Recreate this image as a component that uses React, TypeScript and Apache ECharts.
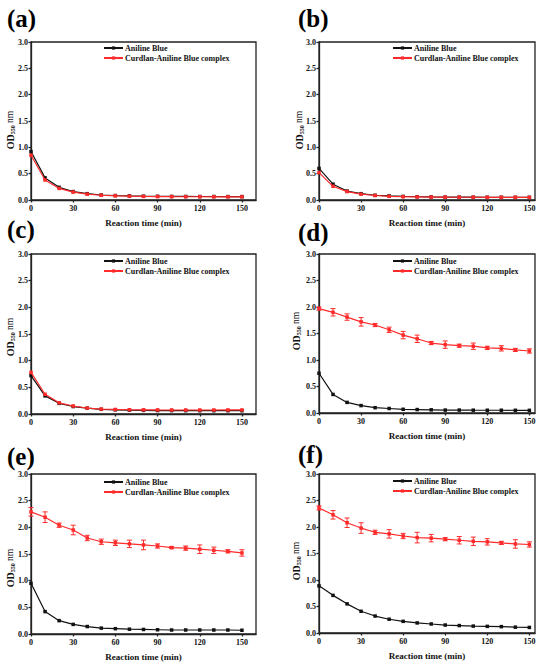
import React, { useEffect, useRef } from "react";
import * as echarts from "echarts";

const FONT = "Liberation Serif";
const BLACK = "#111111";
const RED = "#ff2b2b";

const times = [0, 10, 20, 30, 40, 50, 60, 70, 80, 90, 100, 110, 120, 130, 140, 150];
const xTicks = [0, 30, 60, 90, 120, 150];
const panelLetters = ["(a)", "(b)", "(c)", "(d)", "(e)", "(f)"];
const seriesNames = ["Aniline Blue", "Curdlan-Aniline Blue complex"];
const xTitle = "Reaction time (min)";

// (a)
const abA = [0.92, 0.42, 0.24, 0.16, 0.12, 0.095, 0.085, 0.078, 0.072, 0.07, 0.068, 0.067, 0.066, 0.066, 0.065, 0.065];
const cabA = [0.85, 0.38, 0.22, 0.15, 0.11, 0.09, 0.08, 0.072, 0.068, 0.065, 0.063, 0.062, 0.062, 0.061, 0.06, 0.06];
// (b)
const abB = [0.6, 0.3, 0.17, 0.12, 0.09, 0.078, 0.068, 0.062, 0.058, 0.055, 0.054, 0.053, 0.052, 0.052, 0.051, 0.05];
const cabB = [0.52, 0.26, 0.16, 0.11, 0.085, 0.07, 0.062, 0.058, 0.055, 0.053, 0.052, 0.052, 0.051, 0.05, 0.05, 0.05];
// (c)
const abC = [0.72, 0.34, 0.2, 0.14, 0.11, 0.088, 0.078, 0.072, 0.068, 0.065, 0.064, 0.063, 0.062, 0.062, 0.062, 0.062];
const cabC = [0.78, 0.37, 0.21, 0.15, 0.11, 0.092, 0.085, 0.08, 0.078, 0.076, 0.075, 0.075, 0.075, 0.075, 0.076, 0.076];
// (d)
const abD = [0.75, 0.35, 0.2, 0.14, 0.1, 0.085, 0.07, 0.065, 0.06, 0.055, 0.055, 0.053, 0.052, 0.052, 0.051, 0.05];
const cabD = [1.97, 1.9, 1.81, 1.72, 1.66, 1.57, 1.47, 1.4, 1.32, 1.29, 1.27, 1.26, 1.23, 1.22, 1.19, 1.17];
const errD = [0.03, 0.07, 0.06, 0.08, 0.03, 0.05, 0.07, 0.07, 0.03, 0.07, 0.03, 0.06, 0.03, 0.05, 0.03, 0.04];
// (e)
const abE = [0.95, 0.42, 0.25, 0.18, 0.14, 0.11, 0.1, 0.09, 0.085, 0.08, 0.075, 0.075, 0.075, 0.075, 0.075, 0.07];
const cabE = [2.29, 2.19, 2.04, 1.95, 1.8, 1.73, 1.71, 1.69, 1.67, 1.65, 1.62, 1.61, 1.59, 1.57, 1.55, 1.52];
const errE = [0.08, 0.1, 0.04, 0.09, 0.05, 0.05, 0.05, 0.07, 0.09, 0.04, 0.02, 0.04, 0.08, 0.06, 0.03, 0.06];
// (f)
const abF = [0.89, 0.71, 0.55, 0.41, 0.32, 0.26, 0.22, 0.19, 0.17, 0.15, 0.14, 0.13, 0.125, 0.12, 0.11, 0.105];
const cabF = [2.36, 2.23, 2.08, 1.98, 1.9, 1.87, 1.83, 1.8, 1.79, 1.77, 1.75, 1.73, 1.72, 1.7, 1.68, 1.67];
const errF = [0.04, 0.08, 0.09, 0.1, 0.04, 0.08, 0.05, 0.1, 0.07, 0.03, 0.07, 0.08, 0.06, 0.03, 0.08, 0.05];

const panelData = [
  { black: abA, red: cabA, err: null as number[] | null },
  { black: abB, red: cabB, err: null as number[] | null },
  { black: abC, red: cabC, err: null as number[] | null },
  { black: abD, red: cabD, err: errD },
  { black: abE, red: cabE, err: errE },
  { black: abF, red: cabF, err: errF },
];

// layout (pixels)
const layout = [
  { left: 31, top: 42, width: 225, height: 158, xmax: 160, letter: [7, 18], yTitle: [10, 130], legend: [103, 43] },
  { left: 319, top: 42, width: 216, height: 158, xmax: 154, letter: [298, 18], yTitle: [299, 130], legend: [392, 43] },
  { left: 31, top: 254, width: 225, height: 160, xmax: 160, letter: [7, 229], yTitle: [10, 337], legend: [103, 256] },
  { left: 319, top: 254, width: 216, height: 159, xmax: 154, letter: [298, 232], yTitle: [296, 331], legend: [392, 256] },
  { left: 31, top: 474, width: 225, height: 160, xmax: 160, letter: [7, 456], yTitle: [10, 568], legend: [103, 477] },
  { left: 319, top: 474, width: 216, height: 159, xmax: 154, letter: [298, 454], yTitle: [296, 561], legend: [392, 476] },
];

function buildOption() {
  const grids: any[] = [];
  const xAxes: any[] = [];
  const yAxes: any[] = [];
  const series: any[] = [];
  const legends: any[] = [];
  const graphics: any[] = [];
  const axisLineStyle = { color: "#222", width: 1.3 };

  layout.forEach((L, i) => {
    grids.push({
      left: L.left,
      top: L.top,
      width: L.width,
      height: L.height,
      show: true,
      borderColor: "#222",
      borderWidth: 1.3,
      backgroundColor: "transparent",
      containLabel: false,
    });
    xAxes.push({
      type: "value",
      gridIndex: i,
      min: 0,
      max: L.xmax,
      interval: 30,
      name: xTitle,
      nameLocation: "middle",
      nameGap: 18,
      nameTextStyle: { fontFamily: FONT, fontWeight: "bold", fontSize: 9, color: "#111" },
      axisLine: { show: true, lineStyle: axisLineStyle },
      axisTick: { show: true, length: 2.5, inside: false, customValues: xTicks, lineStyle: axisLineStyle },
      axisLabel: {
        customValues: xTicks,
        fontFamily: FONT,
        fontWeight: "bold",
        fontSize: 8,
        color: "#111",
        margin: 4,
      },
      splitLine: { show: false },
    });
    yAxes.push({
      type: "value",
      gridIndex: i,
      min: 0,
      max: 3,
      interval: 0.5,
      axisLine: { show: true, lineStyle: axisLineStyle },
      axisTick: { show: true, length: 2.5, inside: false, lineStyle: axisLineStyle },
      axisLabel: {
        fontFamily: FONT,
        fontWeight: "bold",
        fontSize: 8,
        color: "#111",
        margin: 3,
        formatter: (v: number) => v.toFixed(1),
      },
      splitLine: { show: false },
    });
    const P = panelData[i];
    series.push({
      type: "line",
      name: seriesNames[0],
      xAxisIndex: i,
      yAxisIndex: i,
      data: times.map((t, k) => [t, P.black[k]]),
      symbol: "rect",
      symbolSize: 3.5,
      lineStyle: { color: BLACK, width: 1.2 },
      itemStyle: { color: BLACK },
      z: 3,
    });
    series.push({
      type: "line",
      name: seriesNames[1],
      xAxisIndex: i,
      yAxisIndex: i,
      data: times.map((t, k) => [t, P.red[k]]),
      symbol: "rect",
      symbolSize: 3.5,
      lineStyle: { color: RED, width: 1.2 },
      itemStyle: { color: RED },
      z: 4,
    });
    if (P.err) {
      const err = P.err;
      series.push({
        type: "custom",
        name: seriesNames[1],
        xAxisIndex: i,
        yAxisIndex: i,
        z: 5,
        data: times.map((t, k) => [t, P.red[k] - err[k], P.red[k] + err[k]]),
        encode: { x: 0, y: [1, 2] },
        renderItem: (params: any, api: any) => {
          const x = api.value(0);
          const lo = api.coord([x, api.value(1)]);
          const hi = api.coord([x, api.value(2)]);
          const cap = 2.5;
          const st = { stroke: RED, lineWidth: 1 };
          return {
            type: "group",
            children: [
              { type: "line", shape: { x1: lo[0], y1: lo[1], x2: hi[0], y2: hi[1] }, style: st },
              { type: "line", shape: { x1: lo[0] - cap, y1: lo[1], x2: lo[0] + cap, y2: lo[1] }, style: st },
              { type: "line", shape: { x1: hi[0] - cap, y1: hi[1], x2: hi[0] + cap, y2: hi[1] }, style: st },
            ],
          };
        },
      });
    }
    legends.push({
      data: seriesNames,
      left: L.legend[0],
      top: L.legend[1],
      orient: "vertical",
      itemWidth: 19,
      itemHeight: 4,
      itemGap: 0,
      padding: 0,
      selectedMode: false,
      textStyle: { fontFamily: FONT, fontWeight: "bold", fontSize: 8, lineHeight: 10, color: "#111", padding: [0, 0, 0, -3] },
    });
    graphics.push({
      type: "text",
      x: L.letter[0],
      y: L.letter[1],
      style: {
        text: panelLetters[i],
        fontFamily: FONT,
        fontWeight: "bold",
        fontSize: 25,
        fill: "#000",
        align: "left",
        verticalAlign: "middle",
      },
    });
    graphics.push({
      type: "text",
      x: L.yTitle[0],
      y: L.yTitle[1],
      rotation: Math.PI / 2,
      style: {
        text: "{b|OD}{s|550}{n| nm}",
        align: "center",
        verticalAlign: "middle",
        fill: "#111",
        fontFamily: FONT,
        rich: {
          b: { fontFamily: FONT, fontWeight: "bold", fontSize: 10, lineHeight: 12, verticalAlign: "middle", fill: "#111" },
          s: { fontFamily: FONT, fontWeight: "bold", fontSize: 6, lineHeight: 12, verticalAlign: "bottom", fill: "#111" },
          n: { fontFamily: FONT, fontSize: 9.5, lineHeight: 12, verticalAlign: "middle", fill: "#111" },
        },
      },
    });
  });

  return {
    animation: false,
    backgroundColor: "#ffffff",
    textStyle: { fontFamily: FONT },
    grid: grids,
    xAxis: xAxes,
    yAxis: yAxes,
    legend: legends,
    series,
    graphic: graphics,
  };
}

export default function App() {
  const ref = useRef<HTMLDivElement>(null);
  useEffect(() => {
    if (!ref.current) return;
    const chart = echarts.init(ref.current, null, { renderer: "svg" });
    chart.setOption(buildOption() as any);
    return () => chart.dispose();
  }, []);
  return (
    <div
      ref={ref}
      style={{ position: "fixed", left: 0, top: 0, width: 550, height: 669, background: "#fff" }}
    />
  );
}
